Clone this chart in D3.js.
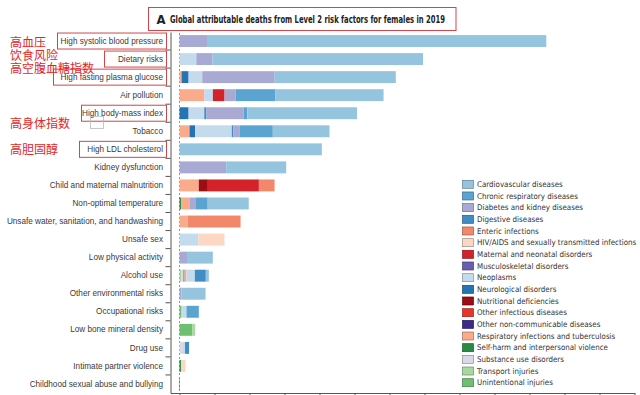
<!DOCTYPE html>
<html>
<head>
<meta charset="utf-8">
<script src="https://cdn.jsdelivr.net/npm/d3@7"></script>
<style>
  body { margin: 0; background: #fff; }
  svg { display: block; font-family: "Liberation Sans Narrow", "DejaVu Sans Condensed", "Roboto", sans-serif; }
  .cat-label { font-size: 8.2px; fill: #3a3a3a; }
  .legend-label { font-size: 7.9px; fill: #333; }
  .cn-note { font-family: "Noto Sans CJK SC", sans-serif; font-size: 12px; fill: #e3261f; }
</style>
</head>
<body>
<div id="chart"></div>
<script>
// risk factors, top to bottom
const riskFactors = [
  "High systolic blood pressure", "Dietary risks", "High fasting plasma glucose", "Air pollution",
  "High body-mass index", "Tobacco", "High LDL cholesterol", "Kidney dysfunction",
  "Child and maternal malnutrition", "Non-optimal temperature",
  "Unsafe water, sanitation, and handwashing", "Unsafe sex", "Low physical activity",
  "Alcohol use", "Other environmental risks", "Occupational risks", "Low bone mineral density",
  "Drug use", "Intimate partner violence", "Childhood sexual abuse and bullying"
];

const causes = [
  "Cardiovascular diseases", "Chronic respiratory diseases", "Diabetes and kidney diseases",
  "Digestive diseases", "Enteric infections", "HIV/AIDS and sexually transmitted infections",
  "Maternal and neonatal disorders", "Musculoskeletal disorders", "Neoplasms",
  "Neurological disorders", "Nutritional deficiencies", "Other infectious diseases",
  "Other non-communicable diseases", "Respiratory infections and tuberculosis",
  "Self-harm and interpersonal violence", "Substance use disorders", "Transport injuries",
  "Unintentional injuries"
];

const causeColors = [
  "#94c4de", "#5ba3d0", "#a9aad3", "#3f8dc4", "#f2876a", "#fcd7c4",
  "#d3222a", "#6a5cb0", "#c4dbee", "#2373b5", "#9c0d14", "#e8352c",
  "#3b2a8c", "#f9ab8c", "#2a8a43", "#d9d9e9", "#a8d8a0", "#6cc070"
];

// deaths in thousands, one value per risk factor (same order as riskFactors)
const cardiovascular = [4835, 3010, 1730, 1543, 1566, 810, 2033, 857, 0, 586, 0, 0, 357, 43, 343, 0, 0, 0, 0, 0];
const chronicRespiratory = [0, 0, 0, 571, 53, 476, 0, 0, 0, 167, 0, 0, 0, 0, 0, 176, 0, 0, 0, 0];
const diabetesKidney = [405, 229, 1035, 157, 533, 86, 0, 667, 0, 96, 0, 0, 119, 0, 29, 0, 0, 0, 0, 0];
const digestive = [0, 0, 0, 0, 29, 24, 0, 0, 0, 0, 0, 0, 0, 157, 0, 0, 0, 57, 0, 0];
const enteric = [0, 0, 0, 0, 0, 0, 0, 0, 224, 0, 753, 0, 0, 0, 0, 0, 0, 0, 0, 0];
const hivStd = [0, 0, 0, 0, 0, 0, 0, 0, 0, 0, 0, 371, 0, 0, 0, 0, 0, 0, 64, 0];
const maternalNeonatal = [0, 0, 0, 167, 0, 0, 0, 0, 729, 0, 0, 0, 0, 0, 0, 0, 0, 0, 0, 0];
const musculoskeletal = [0, 0, 0, 0, 0, 0, 0, 0, 0, 0, 0, 0, 0, 0, 0, 0, 0, 0, 0, 0];
const neoplasms = [0, 240, 195, 120, 224, 523, 0, 0, 0, 0, 0, 271, 0, 119, 0, 71, 0, 29, 0, 0];
const neurological = [0, 0, 100, 0, 130, 81, 0, 0, 0, 0, 0, 0, 0, 0, 0, 0, 0, 0, 0, 0];
const nutritional = [0, 0, 0, 0, 0, 0, 0, 0, 129, 0, 0, 0, 0, 0, 0, 0, 0, 0, 0, 0];
const otherInfectious = [0, 0, 0, 0, 0, 0, 0, 0, 0, 0, 0, 0, 0, 0, 0, 0, 0, 0, 0, 0];
const otherNcd = [0, 0, 0, 0, 0, 0, 0, 0, 0, 0, 0, 0, 0, 0, 0, 0, 0, 0, 0, 0];
const respiratoryTb = [0, 0, 30, 357, 0, 143, 0, 0, 276, 119, 119, 0, 0, 29, 0, 0, 0, 0, 0, 0];
const selfHarm = [0, 0, 0, 0, 0, 0, 0, 0, 0, 21, 0, 0, 0, 14, 0, 0, 0, 0, 21, 7];
const substanceUse = [0, 0, 0, 0, 0, 0, 0, 0, 0, 0, 0, 0, 0, 36, 0, 0, 0, 50, 0, 0];
const transport = [0, 0, 0, 0, 0, 0, 0, 0, 0, 0, 0, 0, 0, 21, 0, 0, 43, 0, 0, 0];
const unintentional = [0, 0, 0, 0, 0, 0, 0, 0, 0, 0, 0, 0, 0, 0, 0, 29, 181, 0, 0, 0];

const seriesValues = [
  cardiovascular, chronicRespiratory, diabetesKidney, digestive, enteric, hivStd,
  maternalNeonatal, musculoskeletal, neoplasms, neurological, nutritional, otherInfectious,
  otherNcd, respiratoryTb, selfHarm, substanceUse, transport, unintentional
];

const xTicks = d3.range(0, 6501, 500);

// red annotations added on top of the figure
const notes = [
  { text: "高血压", y: 47 }, { text: "饮食风险", y: 60 }, { text: "高空腹血糖指数", y: 73 },
  { text: "高身体指数", y: 128 }, { text: "高胆固醇", y: 154 }
];
const boxedRows = [0, 1, 2, 4, 6];

const width = 640, height = 395;
const svg = d3.select("#chart").append("svg").attr("width", width).attr("height", height);

const x = d3.scaleLinear().domain([-128.6, 6500]).range([170.5, 634.5]);
const y = d3.scaleBand().domain(riskFactors).range([32, 393]).paddingInner(0.34).paddingOuter(0.17);

// table for d3.stack, drawn in reverse legend order from left to right
const table = riskFactors.map((r, i) => {
  const row = { risk: r };
  causes.forEach((c, j) => row[c] = seriesValues[j][i]);
  return row;
});
const stack = d3.stack().keys(causes.slice().reverse());
const layers = stack(table);
const color = d3.scaleOrdinal().domain(causes).range(causeColors);

// zero line
svg.append("line")
  .attr("x1", x(0)).attr("x2", x(0)).attr("y1", 33).attr("y2", 393)
  .attr("stroke", "#777").attr("stroke-width", 0.8).attr("stroke-dasharray", "2,2");

svg.append("g").selectAll("g").data(layers).join("g")
  .attr("fill", d => color(d.key))
  .selectAll("rect").data(d => d).join("rect")
  .attr("x", d => x(d[0]))
  .attr("y", d => y(d.data.risk))
  .attr("width", d => Math.max(0, x(d[1]) - x(d[0])))
  .attr("height", y.bandwidth());

// left axis: labels at band centres, ticks between bands
const yAxis = svg.append("g").attr("transform", `translate(${x.range()[0]},0)`)
  .call(d3.axisLeft(y).tickSize(0).tickPadding(7.5));
yAxis.select(".domain").attr("stroke", "#555");
yAxis.selectAll("text").attr("class", "cat-label").attr("font-family", null).attr("font-size", null);

const cellTops = riskFactors.map(r => y(r) + y.bandwidth() / 2 - y.step() / 2).slice(1);
svg.append("g").selectAll("line").data(cellTops).join("line")
  .attr("x1", x.range()[0] - 5).attr("x2", x.range()[0])
  .attr("y1", d => d).attr("y2", d => d)
  .attr("stroke", "#555");

// bottom axis
const xAxis = svg.append("g").attr("transform", "translate(0,393)")
  .call(d3.axisBottom(x).tickValues(xTicks).tickFormat("").tickSize(4).tickSizeOuter(0));
xAxis.selectAll("path, line").attr("stroke", "#555");

// legend
const legend = svg.append("g").selectAll("g").data(causes).join("g")
  .attr("transform", (d, i) => `translate(462.5,${184.3 + i * 11.67})`);
legend.append("rect")
  .attr("x", 0).attr("y", -4).attr("width", 11).attr("height", 8)
  .attr("fill", d => color(d))
  .attr("stroke", d => d3.color(color(d)).darker(1.2)).attr("stroke-width", 0.7);
legend.append("text").attr("class", "legend-label")
  .attr("x", 14.5).attr("dy", "0.33em").text(d => d);

// title box
svg.append("rect").attr("x", 148.5).attr("y", 7.5).attr("width", 307.5).attr("height", 23)
  .attr("fill", "none").attr("stroke", "#d0474a");
svg.append("text").attr("x", 156.5).attr("y", 23.5)
  .attr("font-size", 13).attr("font-weight", 600).attr("fill", "#222").text("A");
svg.append("text").attr("x", 170).attr("y", 23)
  .attr("font-size", 10).attr("font-weight", "bold").attr("fill", "#222")
  .attr("textLength", 275).attr("lengthAdjust", "spacingAndGlyphs")
  .text("Global attributable deaths from Level 2 risk factors for females in 2019");

// red boxes around highlighted labels
const boxLeft = [57.5, 104.5, 53.5, 81.5, 79.5];
svg.append("g").selectAll("rect").data(boxedRows).join("rect")
  .attr("x", (d, i) => boxLeft[i])
  .attr("y", d => y(riskFactors[d]) + y.bandwidth() / 2 - 8)
  .attr("width", (d, i) => 166.5 - boxLeft[i])
  .attr("height", 16)
  .attr("fill", "none").attr("stroke", "#d0474a");
svg.append("rect").attr("x", 90.5).attr("y", 116.5).attr("width", 13).attr("height", 12)
  .attr("fill", "none").attr("stroke", "#bbb").attr("stroke-width", 0.8);

svg.append("g").selectAll("text").data(notes).join("text")
  .attr("class", "cn-note").attr("x", 10).attr("y", d => d.y).text(d => d.text);
</script>
</body>
</html>
